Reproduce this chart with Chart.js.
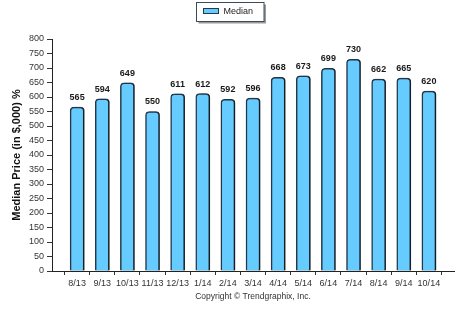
<!DOCTYPE html>
<html>
<head>
<meta charset="utf-8">
<script src="https://cdn.jsdelivr.net/npm/chart.js@4.4.1/dist/chart.umd.min.js"></script>
<style>
  html, body { margin: 0; padding: 0; background: #fff; }
  #wrap { width: 470px; height: 323px; position: relative; }
</style>
</head>
<body>
<div id="wrap"><canvas id="c" width="470" height="323"></canvas></div>
<script>
// Monthly median price, in thousands of dollars
const months = ['8/13', '9/13', '10/13', '11/13', '12/13', '1/14', '2/14', '3/14',
                '4/14', '5/14', '6/14', '7/14', '8/14', '9/14', '10/14'];
const medianPrice = [565, 594, 649, 550, 611, 612, 592, 596,
                     668, 673, 699, 730, 662, 665, 620];
const yTicks = { min: 0, max: 800, step: 50 };
const seriesName = 'Median';
const yTitle = 'Median Price (in $,000) %';
const footer = 'Copyright \u00A9 Trendgraphix, Inc.';

const FONT = '"Liberation Sans", Arial, sans-serif';
const BAR_FILL = '#66CCFF';
const BAR_EDGE = '#24384a';

// Empty slots at both ends leave a gap between the axes and the first/last bar
const labels = [''].concat(months, ['']);
const values = [null].concat(medianPrice, [null]);

// Soft grey drop shadow behind the bars
const barShadow = {
  id: 'barShadow',
  beforeDatasetsDraw(chart) {
    const ctx = chart.ctx;
    ctx.save();
    ctx.shadowColor = 'rgba(0,0,0,0.45)';
    ctx.shadowOffsetX = 2;
    ctx.shadowOffsetY = 0;
    ctx.shadowBlur = 1;
  },
  afterDatasetsDraw(chart) {
    chart.ctx.restore();
  }
};

// Value printed above each bar
const valueLabels = {
  id: 'valueLabels',
  afterDatasetsDraw(chart) {
    const ctx = chart.ctx;
    const meta = chart.getDatasetMeta(0);
    ctx.save();
    ctx.font = 'bold 9px ' + FONT;
    ctx.fillStyle = '#1a1a1a';
    ctx.textAlign = 'center';
    ctx.textBaseline = 'bottom';
    meta.data.forEach((bar, i) => {
      const v = values[i];
      if (v === null) return;
      ctx.fillText(String(v), bar.x, bar.y - 5);
    });
    ctx.restore();
  }
};

// Framed legend box with a shadow, centred over the plot
const boxedLegend = {
  id: 'boxedLegend',
  afterDraw(chart) {
    const ctx = chart.ctx;
    ctx.save();
    ctx.font = '9px ' + FONT;
    const tw = ctx.measureText(seriesName).width;
    const sw = 15, gap = 5, padX = 7;
    const w = padX + sw + gap + tw + padX + 4;
    const h = 19;
    const cx = 230;
    const x = Math.round(cx - w / 2) + 0.5, y = 2.5;
    // shadow
    ctx.fillStyle = '#9a9a9a';
    ctx.fillRect(x + 2, y + 2, w, h);
    ctx.fillStyle = '#ffffff';
    ctx.fillRect(x, y, w, h);
    ctx.strokeStyle = '#3c4a5a';
    ctx.lineWidth = 1;
    ctx.strokeRect(x, y, w, h);
    // swatch
    const sx = x + padX, sy = y + 6;
    ctx.fillStyle = BAR_FILL;
    ctx.fillRect(sx, sy, sw, 5);
    ctx.strokeStyle = BAR_EDGE;
    ctx.strokeRect(sx, sy, sw, 5);
    // label
    ctx.fillStyle = '#222';
    ctx.textBaseline = 'middle';
    ctx.textAlign = 'left';
    ctx.fillText(seriesName, sx + sw + gap, y + h / 2);
    ctx.restore();
  }
};

new Chart(document.getElementById('c'), {
  type: 'bar',
  data: {
    labels: labels,
    datasets: [{
      label: seriesName,
      data: values,
      backgroundColor: BAR_FILL,
      borderColor: BAR_EDGE,
      borderWidth: 1.5,
      borderSkipped: 'bottom',
      borderRadius: { topLeft: 4, topRight: 4, bottomLeft: 0, bottomRight: 0 },
      barThickness: 14
    }]
  },
  options: {
    responsive: false,
    animation: false,
    devicePixelRatio: 1,
    layout: { padding: { top: 39, right: 16, bottom: 0, left: 0 } },
    plugins: {
      legend: { display: false },
      tooltip: { enabled: false }
    },
    scales: {
      x: {
        offset: false,
        grid: { drawOnChartArea: false, drawTicks: true, tickLength: 4, color: '#333' },
        border: { display: true, color: '#222', width: 1 },
        ticks: {
          autoSkip: false, maxRotation: 0, padding: 3,
          color: '#333', font: { family: FONT, size: 9 }
        },
        title: {
          display: true, text: footer, color: '#333',
          font: { family: FONT, size: 8.5 },
          padding: { top: 0, bottom: 21 }
        },
        afterFit(scale) { scale.height = 52; }
      },
      y: {
        min: yTicks.min, max: yTicks.max,
        grid: { drawOnChartArea: false, drawTicks: true, tickLength: 5, color: '#333' },
        border: { display: true, color: '#222', width: 1 },
        ticks: {
          stepSize: yTicks.step, autoSkip: false, padding: 3,
          color: '#333', font: { family: FONT, size: 9 }
        },
        title: {
          display: true, text: yTitle, color: '#111',
          font: { family: FONT, size: 11, weight: 'bold' },
          padding: { top: 10, bottom: 0 }
        },
        afterFit(scale) { scale.width = 52; }
      }
    }
  },
  plugins: [barShadow, valueLabels, boxedLegend]
});
</script>
</body>
</html>
